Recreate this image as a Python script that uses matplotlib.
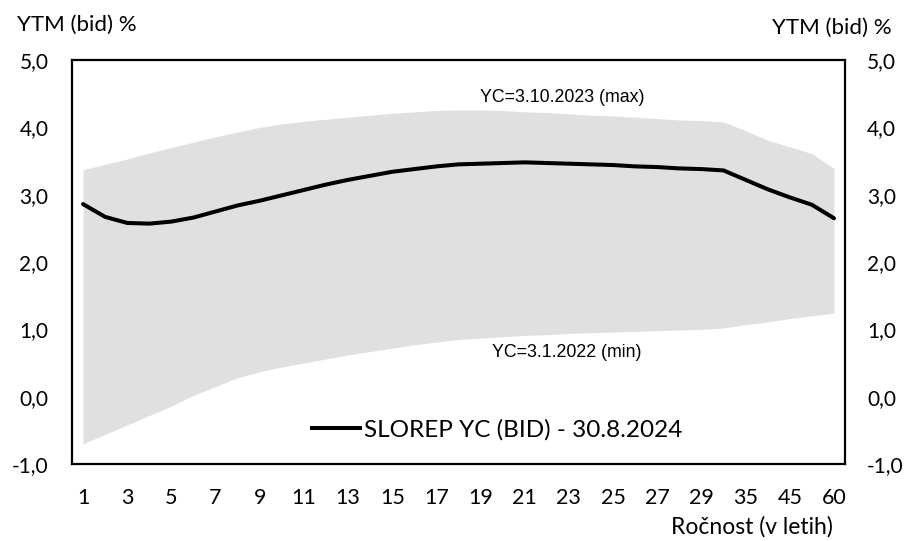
import matplotlib
matplotlib.use("Agg")
import matplotlib.pyplot as plt
from matplotlib.lines import Line2D

# ---- data ----
maturities = ["1", "2", "3", "4", "5", "6", "7", "8", "9", "10",
              "11", "12", "13", "14", "15", "16", "17", "18", "19", "20",
              "21", "22", "23", "24", "25", "26", "27", "28", "29", "30",
              "35", "40", "45", "50", "60"]
yc_current = [2.86, 2.67, 2.58, 2.57, 2.60, 2.66, 2.75, 2.84, 2.91, 2.99,
              3.07, 3.15, 3.22, 3.28, 3.34, 3.38, 3.42, 3.45, 3.46, 3.47,
              3.48, 3.47, 3.46, 3.45, 3.44, 3.42, 3.41, 3.39, 3.38, 3.36,
              3.22, 3.08, 2.96, 2.85, 2.65]
yc_max = [3.37, 3.45, 3.53, 3.62, 3.70, 3.78, 3.86, 3.93, 4.00, 4.05,
          4.09, 4.12, 4.15, 4.18, 4.21, 4.23, 4.25, 4.26, 4.26, 4.25,
          4.23, 4.22, 4.20, 4.18, 4.17, 4.15, 4.13, 4.11, 4.10, 4.08,
          3.95, 3.81, 3.71, 3.61, 3.39]
yc_min = [-0.70, -0.56, -0.42, -0.28, -0.14, 0.02, 0.15, 0.28, 0.37, 0.44,
          0.50, 0.56, 0.62, 0.67, 0.72, 0.77, 0.81, 0.85, 0.87, 0.89,
          0.91, 0.92, 0.94, 0.95, 0.96, 0.97, 0.98, 0.99, 1.00, 1.02,
          1.07, 1.11, 1.16, 1.20, 1.24]
y_ticks = [-1.0, 0.0, 1.0, 2.0, 3.0, 4.0, 5.0]
y_ticklabels = ["-1,0", "0,0", "1,0", "2,0", "3,0", "4,0", "5,0"]
series_label = "SLOREP YC (BID) - 30.8.2024"
max_label = "YC=3.10.2023 (max)"
min_label = "YC=3.1.2022 (min)"
y_title = "YTM (bid) %"
x_title = "Ročnost (v letih)"

FONT = ["Lato", "DejaVu Sans"]
ARIAL = ["Liberation Sans", "DejaVu Sans"]

W, H = 907, 541
fig = plt.figure(figsize=(W / 100, H / 100), dpi=100)
L, R, T, B = 72, 845, 60, 464
ax = fig.add_axes([L / W, 1 - B / H, (R - L) / W, (B - T) / H])

idx = list(range(len(maturities)))
ax.fill_between(idx, yc_min, yc_max, color="#e0e0e0", lw=0, zorder=1)
ax.plot(idx, yc_current, color="black", lw=2.9, solid_capstyle="round",
        solid_joinstyle="round", zorder=3)

ax.set_xlim(-0.5, len(maturities) - 0.5)
ax.set_ylim(-1.0, 5.0)

ax.set_yticks(y_ticks)
ax.set_yticklabels(y_ticklabels, fontfamily=FONT, fontsize=15)
ax.set_xticks(idx[::2])
ax.set_xticklabels(maturities[::2], fontfamily=FONT, fontsize=15.5)
ax.tick_params(axis="both", length=0)
ax.tick_params(axis="y", pad=17)
ax.tick_params(axis="x", pad=17)

for s in ax.spines.values():
    s.set_linewidth(1.6)
    s.set_color("black")

ax2 = ax.twinx()
ax2.set_ylim(-1.0, 5.0)
ax2.set_yticks(y_ticks)
ax2.set_yticklabels(y_ticklabels, fontfamily=FONT, fontsize=15)
ax2.tick_params(axis="y", length=0, pad=16)
for s in ax2.spines.values():
    s.set_visible(False)

ax.text(21.7, 4.45, max_label, fontfamily=ARIAL, fontsize=12.8,
        ha="center", va="center", zorder=4)
ax.text(21.9, 0.65, min_label, fontfamily=ARIAL, fontsize=12.8,
        ha="center", va="center", zorder=4)

handle = Line2D([0], [0], color="black", lw=2.9)
leg = ax.legend([handle], [series_label], loc="center",
                bbox_to_anchor=(0.55, 0.084), frameon=False,
                prop={"family": FONT, "size": 17.5}, handlelength=2.0,
                handletextpad=0.15)

fig.text(17 / W, 1 - 25 / H, y_title, fontfamily=FONT, fontsize=16,
         ha="left", va="center")
fig.text(892 / W, 1 - 28 / H, y_title, fontfamily=FONT, fontsize=16,
         ha="right", va="center")
fig.text(833 / W, 1 - 527 / H, x_title, fontfamily=FONT, fontsize=16.5,
         ha="right", va="center")

fig.savefig("out.png", dpi=100)
